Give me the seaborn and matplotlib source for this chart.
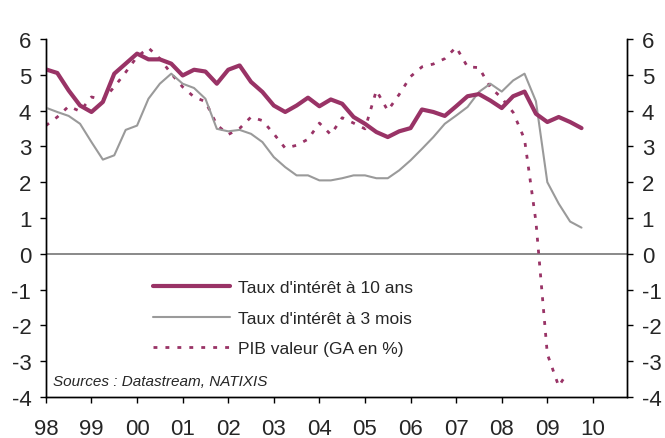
import matplotlib
matplotlib.use("Agg")
import matplotlib.pyplot as plt
import numpy as np
import pandas as pd
import seaborn as sns

# quarterly observations, 1998Q1 .. 2009Q4
taux_10_ans = [5.15, 5.05, 4.56, 4.14, 3.96, 4.24, 5.03, 5.31, 5.59, 5.43, 5.43, 5.31,
               4.98, 5.14, 5.09, 4.75, 5.14, 5.26, 4.80, 4.52, 4.14, 3.96, 4.14, 4.36,
               4.12, 4.31, 4.19, 3.82, 3.63, 3.40, 3.26, 3.42, 3.51, 4.03, 3.96, 3.85,
               4.12, 4.40, 4.46, 4.28, 4.07, 4.40, 4.53, 3.91, 3.68, 3.82, 3.68, 3.51]
taux_3_mois = [4.08, 3.96, 3.85, 3.63, 3.12, 2.63, 2.75, 3.46, 3.58, 4.33, 4.75, 5.03,
               4.75, 4.63, 4.33, 3.49, 3.42, 3.46, 3.35, 3.12, 2.70, 2.42, 2.19, 2.19,
               2.05, 2.05, 2.11, 2.19, 2.19, 2.11, 2.11, 2.33, 2.61, 2.93, 3.26, 3.63,
               3.86, 4.10, 4.52, 4.75, 4.53, 4.84, 5.03, 4.26, 2.00, 1.40, 0.90, 0.73]
pib_valeur = [3.58, 3.82, 4.12, 3.98, 4.38, 4.30, 4.66, 5.07, 5.50, 5.75, 5.45, 5.03,
              4.66, 4.38, 4.25, 3.60, 3.33, 3.50, 3.82, 3.72, 3.35, 2.95, 3.03, 3.20,
              3.65, 3.33, 3.80, 3.65, 3.49, 4.56, 4.00, 4.45, 4.95, 5.22, 5.30, 5.45,
              5.77, 5.22, 5.20, 4.65, 4.35, 3.95, 3.20, 0.90, -2.80, -3.70, -3.40]

dates = 1998 + np.arange(len(taux_10_ans)) / 4
pib_dates = list(dates[:46]) + [2009.4]

year_ticks = list(range(1998, 2011))
year_labels = ["98", "99", "00", "01", "02", "03", "04", "05", "06", "07", "08", "09", "10"]
y_ticks = list(range(-4, 7))

rates = pd.DataFrame({"date": dates, "t10": taux_10_ans, "t3m": taux_3_mois})
pib = pd.DataFrame({"date": pib_dates, "pib": pib_valeur})

sns.set_style("white")
plt.rcParams["font.family"] = ["Liberation Sans", "DejaVu Sans"]
plt.rcParams["axes.unicode_minus"] = False

purple = "#993366"
grey = "#9a9a9a"

fig = plt.figure(figsize=(6.65, 4.39), dpi=100)
ax = fig.add_axes([0.069, 0.0934, 0.874, 0.8156])

ax.axhline(0, color="#808080", linewidth=1.3, zorder=1)
sns.lineplot(data=pib, x="date", y="pib", ax=ax, color=purple, linewidth=2.0,
             linestyle=(0, (1.4, 2.9)), label="PIB valeur (GA en %)", zorder=2)
sns.lineplot(data=rates, x="date", y="t3m", ax=ax, color=grey, linewidth=1.5,
             label="Taux d'intérêt à 3 mois", zorder=3)
sns.lineplot(data=rates, x="date", y="t10", ax=ax, color=purple, linewidth=3.0,
             label="Taux d'intérêt à 10 ans", zorder=4)

ax.set_xlim(1998, 2010.75)
ax.set_ylim(-4, 6)
ax.set_xticks(year_ticks)
ax.set_xticklabels(year_labels)
ax.set_yticks(y_ticks)
ax.set_xlabel("")
ax.set_ylabel("")
ax.tick_params(axis="x", direction="out", length=4, width=1, pad=11, labelsize=16,
               bottom=True, color="black")
ax.tick_params(axis="y", direction="out", length=4.5, width=1, pad=6, labelsize=16,
               left=True, color="black")

ax2 = ax.twinx()
ax2.set_ylim(-4, 6)
ax2.set_yticks(y_ticks)
ax2.tick_params(axis="y", direction="out", length=4.5, width=1, pad=6, labelsize=16,
                right=True, color="black")

for a in (ax, ax2):
    a.spines["top"].set_visible(False)
    for side in ("left", "right", "bottom"):
        a.spines[side].set_color("black")
        a.spines[side].set_linewidth(1)

handles, labels = ax.get_legend_handles_labels()
order = [2, 1, 0]
ax.legend([handles[i] for i in order], [labels[i] for i in order],
          loc="upper left", bbox_to_anchor=(0.185, 0.326), frameon=False,
          fontsize=12.5, handlelength=4.4, handletextpad=0.5, labelspacing=0.88,
          borderpad=0, borderaxespad=0)

ax.text(0.012, 0.045, "Sources : Datastream, NATIXIS", transform=ax.transAxes,
        fontsize=11, style="italic", ha="left", va="center")

fig.savefig("out.png", dpi=100)
